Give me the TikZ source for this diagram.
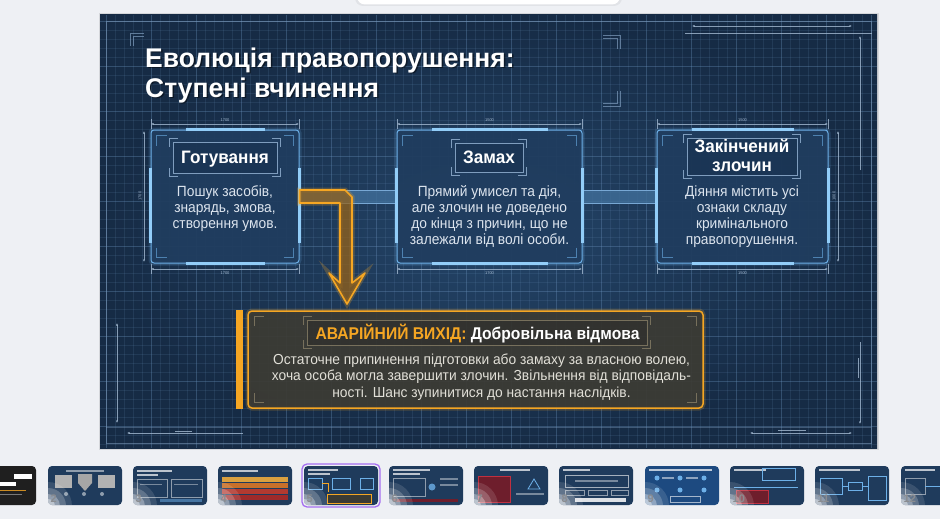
\documentclass[tikz,border=0pt]{standalone}
\usepackage{fontspec}
\setmainfont{Liberation Sans}
\newfontfamily\titlefont{Liberation Sans}[FakeStretch=0.98]
\newfontfamily\headfont{Liberation Sans}[FakeStretch=0.95]
\newfontfamily\exitheadfont{Liberation Sans}[FakeStretch=0.92]
\newfontfamily\bodyfont{Liberation Sans}[FakeStretch=0.93]
\newfontfamily\exitfont{Liberation Sans}[FakeStretch=0.95]
\usetikzlibrary{calc,arrows.meta}
\definecolor{appbg}{HTML}{EEF0F4}
\definecolor{slidein}{HTML}{244569}
\definecolor{slideout}{HTML}{162B45}
\definecolor{gridc}{HTML}{6A92BC}
\definecolor{boxfill}{HTML}{203D5F}
\definecolor{boxline}{HTML}{6DB0E8}
\definecolor{boxacc}{HTML}{92CDF8}
\definecolor{bodytxt}{HTML}{DCE4EE}
\definecolor{dimc}{HTML}{A4BAD2}
\definecolor{frameline}{HTML}{7F9DBE}
\definecolor{framefill}{HTML}{18314F}
\definecolor{barfill}{HTML}{3E6C96}
\definecolor{baredge}{HTML}{78A8D4}
\definecolor{orng}{HTML}{F5A623}
\definecolor{orngdark}{HTML}{94621A}
\definecolor{brownfill}{HTML}{3C3B34}
\definecolor{brownframe}{HTML}{77705C}
\definecolor{exitbody}{HTML}{E2E0D8}
\definecolor{purp}{HTML}{A56EF0}
\definecolor{thumbbg}{HTML}{1F3B5C}
\definecolor{numgray}{HTML}{8A8C90}
\definecolor{strA}{HTML}{D9A040}
\definecolor{strB}{HTML}{C8702A}
\definecolor{strC}{HTML}{B23A30}
\definecolor{strD}{HTML}{9E2A2A}
\definecolor{redbox}{HTML}{6E1E2C}
\definecolor{redline}{HTML}{C03040}
\definecolor{blue9}{HTML}{1D4A80}
\tikzset{
  bluebox/.style={draw=boxline, line width=1pt, fill=boxfill, fill opacity=0.95, rounded corners=3pt, inner sep=0pt, minimum height=133pt,
    preaction={draw=boxline, line width=5pt, draw opacity=0.18, rounded corners=3pt}},
  accbar/.style={draw=boxacc, line width=3pt},
  cornermark/.style={draw=boxline, line width=0.8pt, draw opacity=0.6},
  tframe/.style={draw=frameline, line width=0.6pt, fill=framefill, fill opacity=0.6, inner sep=0pt},
  bodytext/.style={text=bodytxt, font=\bodyfont\fontsize{14.8}{16}\selectfont, anchor=base, inner sep=0pt},
  boxtitle/.style={text=white, font=\headfont\bfseries\fontsize{18}{19}\selectfont, anchor=base, inner sep=0pt},
  exittitle/.style={text=white, font=\exitheadfont\bfseries\fontsize{17}{19}\selectfont, anchor=base, inner sep=0pt},
  titletxt/.style={text=white, font=\titlefont\bfseries\fontsize{27}{30}\selectfont, anchor=base west, inner sep=0pt},
  dimline/.style={draw=dimc, line width=0.4pt, draw opacity=0.8},
  dimarrows/.style={{Latex[length=2.5pt,width=2pt]}-{Latex[length=2.5pt,width=2pt]}},
  dimlab/.style={text=dimc, font=\fontsize{4}{4}\selectfont, inner sep=0.5pt},
  gridminor/.style={draw=gridc, line width=0.3pt, draw opacity=0.15},
  gridmajor/.style={draw=gridc, line width=0.5pt, draw opacity=0.24},
  orngshape/.style={fill=orngdark, fill opacity=0.75, draw=orng, line width=1.6pt, line join=round,
    preaction={draw=orng, line width=5pt, draw opacity=0.25}},
  exitbox/.style={draw=orng, line width=1.5pt, fill=brownfill, fill opacity=0.93, rounded corners=4pt, inner sep=0pt,
    preaction={draw=orng, line width=5pt, draw opacity=0.22, rounded corners=4pt}},
  exitbody/.style={text=exitbody, font=\exitfont\fontsize{14.5}{16}\selectfont, anchor=base, inner sep=0pt},
  thumbnum/.style={text=numgray, font=\bfseries\fontsize{11}{11}\selectfont, anchor=base west, inner sep=0pt},
  deco/.style={draw=frameline, line width=0.7pt, draw opacity=0.7},
}
\newcommand\boxdeco[1]{%
  \draw[accbar] ($(#1.north west)+(35,0)$) -- ($(#1.north east)+(-35,0)$);
  \draw[accbar] ($(#1.south west)+(35,0)$) -- ($(#1.south east)+(-35,0)$);
  \draw[accbar] ($(#1.north west)+(0,38)$) -- ($(#1.south west)+(0,-21)$);
  \draw[accbar] ($(#1.north east)+(0,38)$) -- ($(#1.south east)+(0,-21)$);
  \draw[cornermark] ($(#1.north west)+(6,16)$) -- ++(0,-10) -- ++(10,0);
  \draw[cornermark] ($(#1.north east)+(-6,16)$) -- ++(0,-10) -- ++(-10,0);
  \draw[cornermark] ($(#1.south west)+(6,-16)$) -- ++(0,10) -- ++(10,0);
  \draw[cornermark] ($(#1.south east)+(-6,-16)$) -- ++(0,10) -- ++(-10,0);
}
\newcommand\framedeco[2]{% node, colour
  \draw[#2, line width=0.6pt] ($(#1.north west)+(-3,5)$) -- ++(0,-8) -- ++(8,0);
  \draw[#2, line width=0.6pt] ($(#1.north east)+(3,5)$) -- ++(0,-8) -- ++(-8,0);
  \draw[#2, line width=0.6pt] ($(#1.south west)+(-3,-5)$) -- ++(0,8) -- ++(8,0);
  \draw[#2, line width=0.6pt] ($(#1.south east)+(3,-5)$) -- ++(0,8) -- ++(-8,0);
}
\newcommand\hdim[5]{% x1, x2, y, label, label y
  \draw[dimline] (#1,#3-5) -- (#1,#3+5);
  \draw[dimline] (#2,#3-5) -- (#2,#3+5);
  \draw[dimline, dimarrows] (#1,#3) -- (#2,#3);
  \node[dimlab] at ({(#1+#2)/2},#5) {#4};
}
\newcommand\thumbbase[2]{% x0, fill
  \fill[#2, rounded corners=4pt] (#1,466) rectangle ++(74,39);
}
\newcommand\thumbend[3]{% x0, number, name
  \begin{scope}
    \clip[rounded corners=4pt] (#1,466) rectangle ++(74,39);
    \foreach \r/\o in {24/0.12,18/0.2,12/0.3,7/0.4} \fill[white, opacity=\o] (#1,506) circle (\r);
  \end{scope}
  \node[thumbnum] (#3) at (#1+2.5,502) {#2};
}
\begin{document}
\begin{tikzpicture}[x=1pt,y=-1pt]
\useasboundingbox (0,0) rectangle (940,519);
% app background
\fill[appbg] (0,0) rectangle (940,519);
\fill[black, opacity=0.05, rounded corners=8pt] (355,-15) rectangle (622,6);
\fill[white, rounded corners=8pt] (357,-15) rectangle (620,4.5);
% slide
\fill[black, opacity=0.10] (98.5,13.5) rectangle (878.5,449.5);
\shade[inner color=slidein, outer color=slideout] (100,15) rectangle (877,448);
\begin{scope}
  \clip (100,15) rectangle (877,448);
  \foreach \x in {106,115,...,877} \draw[gridminor] (\x,15) -- (\x,448);
  \foreach \y in {21,30,...,448} \draw[gridminor] (100,\y) -- (877,\y);
  \foreach \x in {106,151,...,877} \draw[gridmajor] (\x,15) -- (\x,448);
  \foreach \y in {21,66,...,448} \draw[gridmajor] (100,\y) -- (877,\y);
\end{scope}
\draw[deco, draw opacity=0.55] (106,21) rectangle (871,443);
\draw[deco, draw opacity=0.4] (106,427) -- (871,427);
% title decorations
\draw[deco] (130,46) -- (130,33) -- (144,33);
\draw[deco] (133,46) -- (133,36) -- (144,36);
\draw[deco] (603,35) -- (620,35) -- (620,49);
\draw[deco] (603,38) -- (617,38) -- (617,49);
\draw[deco] (603,106) -- (620,106) -- (620,91);
\draw[deco] (603,103) -- (617,103) -- (617,91);
% outer dimension decorations
\draw[dimline, dimarrows] (692,26) -- (852,26);
\draw[dimline] (685,33) -- (872,33);
\draw[dimline, -{Latex[length=2.5pt,width=2pt]}] (860,170) -- (860,36);
\draw[dimline, dimarrows] (838,131) -- (838,262);
\node[dimlab, rotate=90] (dimr) at (834,196) {1000};
\draw[dimline, dimarrows] (144,131) -- (144,262);
\node[dimlab, rotate=90] (diml) at (140,196) {1700};
\draw[dimline, dimarrows] (117,323) -- (117,423);
\draw[dimline, -{Latex[length=2.5pt,width=2pt]}] (243,433) -- (127,433);
\draw[dimline] (175,431) -- (192,431);
\draw[dimline, -{Latex[length=2.5pt,width=2pt]}] (860,342) -- (860,424);
\draw[dimline] (858,358) -- (858,378);
\draw[dimline, dimarrows] (750,433) -- (852,433);
\draw[dimline] (778,430) -- (806,430);
% title
\node[titletxt, text=black, opacity=0.45] (t1s) at (146.5,68.5) {Еволюція правопорушення:};
\node[titletxt, text=black, opacity=0.45] (t2s) at (146.5,98.5) {Ступені вчинення};
\node[titletxt] (t1) at (145,67) {Еволюція правопорушення:};
\node[titletxt] (t2) at (145,97) {Ступені вчинення};
% box dimension lines
\hdim{151}{299}{124}{1700}{120}
\hdim{151}{299}{269}{1700}{273.5}
\hdim{397}{582}{124}{1500}{120}
\hdim{397}{582}{269}{1700}{273.5}
\hdim{657}{828}{124}{1500}{120}
\hdim{657}{828}{269}{1500}{273.5}
% boxes
\node[bluebox, minimum width=148pt] (prep) at (225,196.5) {};
\node[bluebox, minimum width=185pt] (att) at (489.5,196.5) {};
\node[bluebox, minimum width=171pt] (done) at (742.5,196.5) {};
% connector bars
\fill[barfill, opacity=0.85] ($(prep.east)+(0,-6.5)$) rectangle ($(att.west)+(0,6.5)$);
\draw[baredge, line width=0.8pt] ($(prep.east)+(0,-6.5)$) -- ($(att.west)+(0,-6.5)$);
\draw[baredge, line width=0.8pt] ($(prep.east)+(0,6.5)$) -- ($(att.west)+(0,6.5)$);
\fill[barfill, opacity=0.85] ($(att.east)+(0,-6.5)$) rectangle ($(done.west)+(0,6.5)$);
\draw[baredge, line width=0.8pt] ($(att.east)+(0,-6.5)$) -- ($(done.west)+(0,-6.5)$);
\draw[baredge, line width=0.8pt] ($(att.east)+(0,6.5)$) -- ($(done.west)+(0,6.5)$);
\boxdeco{prep}
\boxdeco{att}
\boxdeco{done}
% title frames in boxes
\node[tframe, minimum width=104pt, minimum height=31pt] (f1) at (225,157.5) {};
\node[tframe, minimum width=68pt, minimum height=29pt] (f2) at (489,157.5) {};
\node[tframe, minimum width=110pt, minimum height=37pt] (f3) at (742,156.5) {};
\framedeco{f1}{frameline}
\framedeco{f2}{frameline}
\framedeco{f3}{frameline}
\node[boxtitle] (h1) at (225,163) {Готування};
\node[boxtitle] (h2) at (489,163) {Замах};
\node[boxtitle] (h3a) at (742,152.5) {Закінчений};
\node[boxtitle] (h3b) at (742,171.5) {злочин};
% body texts
\node[bodytext] (b11) at (225,196) {Пошук засобів,};
\node[bodytext] (b12) at (225,212) {знарядь, змова,};
\node[bodytext] (b13) at (225,228) {створення умов.};
\node[bodytext] (b21) at (489.5,196) {Прямий умисел та дія,};
\node[bodytext] (b22) at (489.5,212) {але злочин не доведено};
\node[bodytext] (b23) at (489.5,228) {до кінця з причин, що не};
\node[bodytext] (b24) at (489.5,244) {залежали від волі особи.};
\node[bodytext] (b31) at (742,196) {Діяння містить усі};
\node[bodytext] (b32) at (742,212) {ознаки складу};
\node[bodytext] (b33) at (742,228) {кримінального};
\node[bodytext] (b34) at (742,244) {правопорушення.};
% exit box
\node[exitbox, minimum width=455pt, minimum height=97pt] (exit) at (475.5,359.5) {};
\fill[orng] ($(exit.north west)+(-11,0)$) rectangle ($(exit.south west)+(-4.5,0)$);
\draw[brownframe, line width=0.8pt] ($(exit.north west)+(7,16)$) -- ++(0,-10) -- ++(10,0);
\draw[brownframe, line width=0.8pt] ($(exit.north east)+(-7,16)$) -- ++(0,-10) -- ++(-10,0);
\draw[brownframe, line width=0.8pt] ($(exit.south west)+(7,-16)$) -- ++(0,10) -- ++(10,0);
\draw[brownframe, line width=0.8pt] ($(exit.south east)+(-7,-16)$) -- ++(0,10) -- ++(-10,0);
\node[draw=brownframe, line width=0.6pt, fill=black, fill opacity=0.12, inner sep=0pt, minimum width=340pt, minimum height=25pt] (ef) at (477,332.5) {};
\framedeco{ef}{brownframe}
\node[exittitle] (eh) at (477.5,339.5) {{\color{orng}АВАРІЙНИЙ ВИХІД:} Добровільна відмова};
\node[exitbody] (e1) at (481.5,364) {Остаточне припинення підготовки або замаху за власною волею,};
\node[exitbody] (e2) at (481.5,380.5) {хоча особа могла завершити злочин. Звільнення від відповідаль-};
\node[exitbody] (e3) at (481.5,397) {ності. Шанс зупинитися до настання наслідків.};
% orange escape arrow
\draw[orngshape] ($(prep.east)+(0,-6.5)$) -- (345,190) -- (352,197) -- (352,283) -- (365,273) -- (347,304)
  -- (329,273) -- (340,283) -- (340,203) -- ($(prep.east)+(0,6.5)$) -- cycle;
% ---------------- thumbnails ----------------
% 1
\thumbbase{-38}{black!88}
\fill[white] (14,474) rectangle (32,479);
\fill[white] (0,482) rectangle (16,486);
\fill[orng, opacity=0.8] (0,490) rectangle (26,491);
\fill[white, opacity=0.4] (0,494) rectangle (22,495);
% 2
\thumbbase{48}{thumbbg}
\fill[white, opacity=0.5] (66,470) rectangle (104,471.5);
\fill[gray!60] (55,475) rectangle (72,488);
\fill[gray!60] (98,475) rectangle (115,488);
\fill[gray!70] (78,474) -- (92,474) -- (92,483) -- (85,491) -- (78,483) -- cycle;
\fill[white, opacity=0.5] (66,494) circle (2);
\fill[white, opacity=0.5] (84,494) circle (2);
\fill[white, opacity=0.5] (102,494) circle (2);
% 3
\thumbbase{133}{thumbbg}
\fill[white, opacity=0.7] (137,470) rectangle (172,472);
\fill[white, opacity=0.7] (137,474) rectangle (158,476);
\draw[white, opacity=0.5, line width=0.4pt] (137,479) rectangle (167,497);
\draw[white, opacity=0.5, line width=0.4pt] (171,479) rectangle (202,497);
\fill[white, opacity=0.4] (140,484) rectangle (162,485);
\fill[white, opacity=0.4] (174,484) rectangle (198,485);
\fill[boxline, opacity=0.5] (160,499) rectangle (202,502);
% 4
\thumbbase{218}{thumbbg}
\fill[white, opacity=0.7] (222,470) rectangle (258,472);
\fill[strA] (222,477) rectangle (288,482);
\fill[strB] (222,483) rectangle (288,488);
\fill[strC] (222,489) rectangle (288,494);
\fill[strD] (222,495) rectangle (288,500);
% 5
\thumbbase{304}{thumbbg}
\fill[white, opacity=0.7] (308,469) rectangle (338,471);
\fill[white, opacity=0.7] (308,473) rectangle (330,475);
\draw[boxline, line width=0.5pt, fill=boxfill] (308,478) rectangle (322,489);
\draw[boxline, line width=0.5pt, fill=boxfill] (332,478) rectangle (350,489);
\draw[boxline, line width=0.5pt, fill=boxfill] (360,478) rectangle (373,489);
\draw[orng, line width=1pt] (322,483) -- (328,483) -- (328,492);
\draw[orng, line width=0.6pt, fill=brownfill] (327,494) rectangle (371,503);
% 6
\thumbbase{389}{thumbbg}
\fill[white, opacity=0.7] (393,469) rectangle (430,471);
\fill[white, opacity=0.7] (393,473) rectangle (420,475);
\draw[white, opacity=0.5, line width=0.4pt] (393,478) rectangle (425,496);
\fill[boxline, opacity=0.8] (432,487) circle (3.5);
\fill[white, opacity=0.4] (440,478) rectangle (458,480);
\fill[white, opacity=0.4] (440,484) rectangle (458,486);
\fill[redbox] (393,499) rectangle (458,502);
% 7
\thumbbase{474}{thumbbg}
\fill[white, opacity=0.7] (500,469) rectangle (530,471);
\fill[redbox] (478,476) rectangle (510,502);
\draw[redline, line width=0.6pt] (478,476) rectangle (510,502);
\draw[boxline, line width=0.8pt] (534,479) -- (540,489) -- (528,489) -- cycle;
\fill[white, opacity=0.4] (516,493) rectangle (544,494.5);
% 8
\thumbbase{559}{thumbbg}
\fill[white, opacity=0.7] (563,469) rectangle (590,471);
\draw[white, opacity=0.6, line width=0.5pt] (565,475) rectangle (628,487);
\fill[white, opacity=0.4] (575,480) rectangle (618,481.5);
\draw[white, opacity=0.5, line width=0.4pt] (565,490) rectangle (584,495);
\draw[white, opacity=0.5, line width=0.4pt] (588,490) rectangle (607,495);
\draw[white, opacity=0.5, line width=0.4pt] (611,490) rectangle (628,495);
\fill[white, opacity=0.85] (575,498) rectangle (626,502);
% 9
\thumbbase{645}{blue9}
\fill[white, opacity=0.7] (649,469) rectangle (712,470.5);
\foreach \xx in {657,680,704} \foreach \yy in {478,490} \fill[boxline] (\xx,\yy) circle (2.5);
\fill[white, opacity=0.5] (662,477) rectangle (674,478.5);
\fill[white, opacity=0.5] (686,477) rectangle (698,478.5);
\draw[white, opacity=0.6, line width=0.4pt] (670,496) rectangle (700,502);
% 10
\thumbbase{730}{thumbbg}
\fill[white, opacity=0.7] (734,469) rectangle (766,471);
\draw[boxline, line width=0.5pt] (762,468) rectangle (795,480);
\draw[boxline, line width=0.8pt] (734,487) -- (798,487);
\fill[redbox] (736,490) rectangle (768,503);
\draw[redline, line width=0.5pt] (736,490) rectangle (768,503);
% 11
\thumbbase{815}{thumbbg}
\fill[white, opacity=0.7] (819,469) rectangle (860,471);
\draw[boxline, line width=0.5pt] (820,478) rectangle (842,494);
\draw[boxline, line width=0.5pt] (848,482) rectangle (862,490);
\draw[boxline, line width=0.5pt] (868,476) rectangle (886,500);
\draw[boxline, line width=0.6pt] (842,486) -- (848,486);
\draw[boxline, line width=0.6pt] (862,486) -- (868,486);
% 12
\thumbbase{901}{thumbbg}
\fill[white, opacity=0.7] (905,469) rectangle (935,471);
\draw[white, opacity=0.5, line width=0.4pt] (905,478) rectangle (925,494);
\draw[boxline, line width=0.6pt] (925,486) -- (940,486);
% fades and numbers
\thumbend{48}{2}{n2}
\thumbend{133}{3}{n3}
\thumbend{218}{4}{n4}
\thumbend{304}{5}{n5}
\thumbend{389}{6}{n6}
\thumbend{474}{7}{n7}
\thumbend{559}{8}{n8}
\thumbend{645}{9}{n9}
\thumbend{730}{10}{n10}
\thumbend{815}{11}{n11}
\thumbend{901}{12}{n12}
\draw[purp, line width=1.3pt, rounded corners=5pt] (302,464) rectangle (380,507);
\end{tikzpicture}
\end{document}
